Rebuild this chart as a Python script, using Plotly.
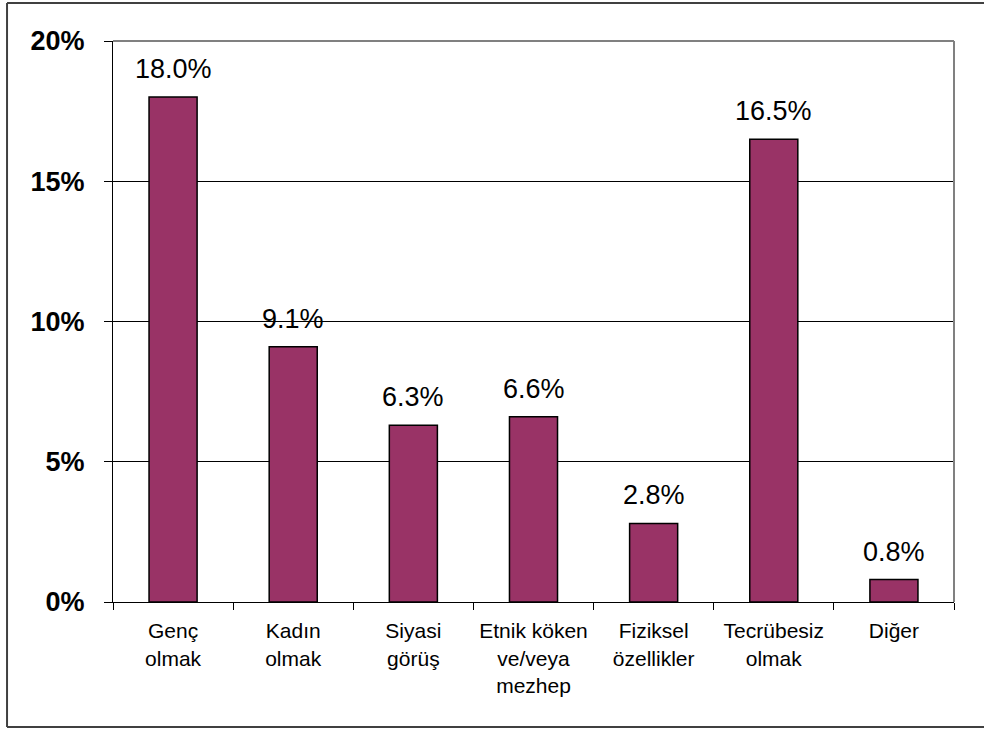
import plotly.graph_objects as go

categories = [
    "Genç<br>olmak",
    "Kadın<br>olmak",
    "Siyasi<br>görüş",
    "Etnik köken<br>ve/veya<br>mezhep",
    "Fiziksel<br>özellikler",
    "Tecrübesiz<br>olmak",
    "Diğer",
]
values = [18.0, 9.1, 6.3, 6.6, 2.8, 16.5, 0.8]
y_ticks = [0, 5, 10, 15, 20]
y_tick_labels = ["0%", "5%", "10%", "15%", "20%"]

fig = go.Figure(
    go.Bar(
        x=categories,
        y=values,
        marker=dict(color="#993366", line=dict(color="black", width=1.5)),
        hoverinfo="skip",
    )
)

for cat, val in zip(categories, values):
    fig.add_annotation(
        x=cat, y=val, text=f"{val:.1f}%", showarrow=False,
        yanchor="bottom", yshift=11,
        font=dict(family="Liberation Sans, Arial", size=27, color="black"),
    )

# outer chart border: left, top and bottom only, the right side runs off the page
frame = dict(color="#404040", width=2)
bx0, bx1, by0, by1 = -0.126, 1.2, -0.2228, 1.0677

fig.update_layout(
    width=984,
    height=729,
    margin=dict(l=113, r=30, t=41, b=127),
    paper_bgcolor="white",
    plot_bgcolor="white",
    bargap=0.6,
    showlegend=False,
    font=dict(family="Liberation Sans, Arial", color="black"),
    shapes=[
        dict(type="line", xref="paper", yref="paper", x0=bx0, x1=bx0, y0=by0, y1=by1, line=frame),
        dict(type="line", xref="paper", yref="paper", x0=bx0, x1=bx1, y0=by1, y1=by1, line=frame),
        dict(type="line", xref="paper", yref="paper", x0=bx0, x1=bx1, y0=by0, y1=by0, line=frame),
        # plot area top / right border
        dict(type="line", xref="paper", yref="paper", x0=0, x1=1, y0=1, y1=1,
             line=dict(color="#808080", width=2)),
        dict(type="line", xref="paper", yref="paper", x0=1, x1=1, y0=0, y1=1,
             line=dict(color="#808080", width=2)),
    ],
)

fig.update_xaxes(
    showline=True, linecolor="black", linewidth=1,
    ticks="outside", tickson="boundaries", ticklen=7, tickcolor="black",
    tickfont=dict(size=21, color="black"),
    ticklabelstandoff=10,
    showgrid=False, fixedrange=True,
)
fig.update_yaxes(
    range=[0, 20], tickvals=y_ticks, ticktext=y_tick_labels,
    showline=True, linecolor="black", linewidth=1,
    ticks="outside", ticklen=8, tickcolor="black",
    tickfont=dict(size=27, color="black", weight="bold"),
    ticklabelstandoff=14,
    showgrid=True, gridcolor="black", gridwidth=1,
    zeroline=False, fixedrange=True,
)

# drop the default body margin so the figure fills the window exactly
fig.write_html(
    "out.html",
    config={"displayModeBar": False},
    post_script="document.body.style.margin='0'; document.body.style.overflow='hidden';",
)
